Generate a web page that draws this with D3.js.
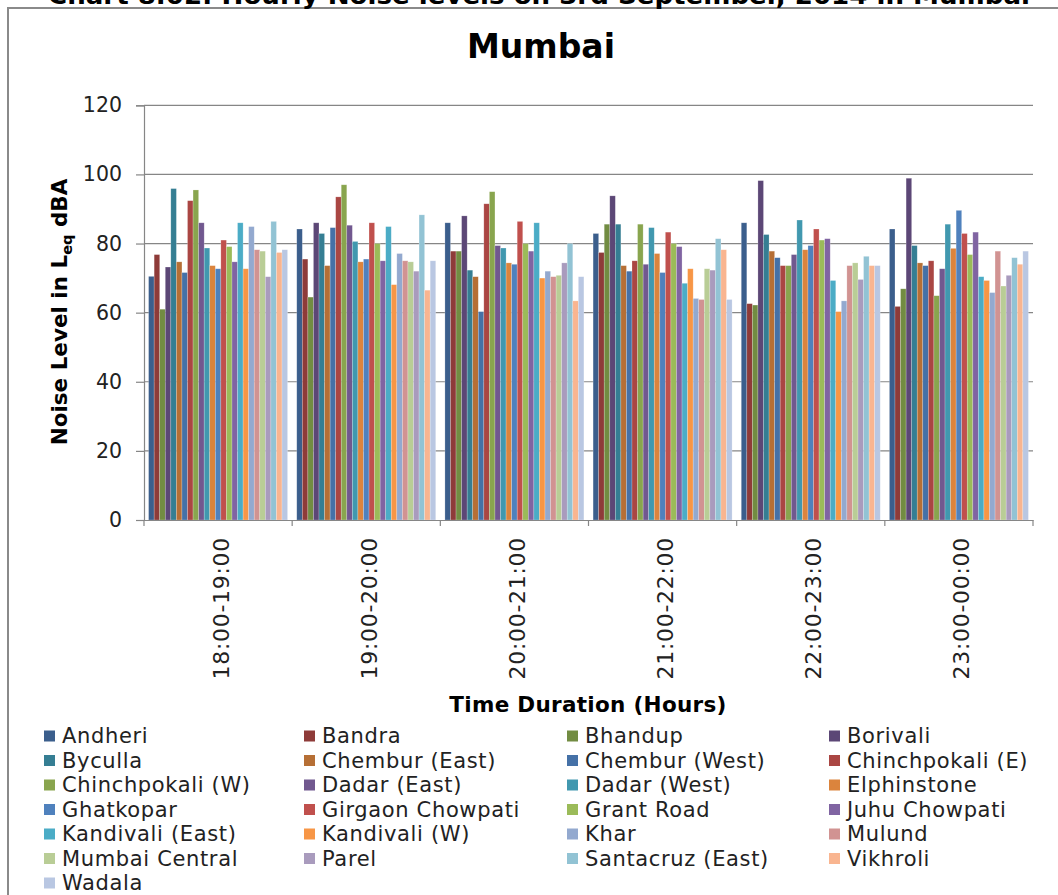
<!DOCTYPE html>
<html>
<head>
<meta charset="utf-8">
<script src="https://cdn.jsdelivr.net/npm/d3@7"></script>
<style>
  html, body { margin: 0; padding: 0; background: #fff; }
  svg { display: block; font-family: "DejaVu Sans", Verdana, sans-serif; }
</style>
</head>
<body>
<svg id="chart" width="1058" height="895"></svg>
<script>
const categories = ["18:00-19:00", "19:00-20:00", "20:00-21:00", "21:00-22:00", "22:00-23:00", "23:00-00:00"];
const seriesNames = ["Andheri", "Bandra", "Bhandup", "Borivali", "Byculla", "Chembur (East)", "Chembur (West)",
  "Chinchpokali (E)", "Chinchpokali (W)", "Dadar (East)", "Dadar (West)", "Elphinstone", "Ghatkopar",
  "Girgaon Chowpati", "Grant Road", "Juhu Chowpati", "Kandivali (East)", "Kandivali (W)", "Khar", "Mulund",
  "Mumbai Central", "Parel", "Santacruz (East)", "Vikhroli", "Wadala"];
const seriesColors = ["#3B5E8C", "#8E3B39", "#728C42", "#5C4776", "#357E93", "#B66F35", "#4571A7",
  "#AA4643", "#89A54E", "#71588F", "#4198AF", "#DB843D", "#4F81BD", "#C0504D", "#9BBB59", "#8064A2",
  "#4BACC6", "#F79646", "#93A9CF", "#D19392", "#B9CD96", "#A99BBD", "#92C3D4", "#F9B590", "#B9C7E2"];
// values per time slot, in series order
const h18 = [70.5, 76.8, 61.0, 73.2, 95.9, 74.7, 71.6, 92.4, 95.5, 86.0, 78.7, 73.6, 72.7, 81.0, 79.1, 74.7, 86.0, 72.7, 84.9, 78.2, 77.8, 70.4, 86.4, 77.4, 78.2];
const h19 = [84.2, 75.5, 64.5, 86.0, 82.9, 73.6, 84.6, 93.5, 97.0, 85.3, 80.6, 74.7, 75.5, 86.0, 80.0, 75.0, 84.9, 68.1, 77.1, 75.0, 74.7, 72.0, 88.3, 66.5, 75.0];
const h20 = [86.0, 77.8, 77.8, 88.0, 72.3, 70.4, 60.3, 91.5, 95.0, 79.4, 78.7, 74.4, 74.0, 86.4, 80.0, 77.8, 86.0, 70.0, 72.0, 70.4, 70.8, 74.4, 80.0, 63.4, 70.4];
const h21 = [82.9, 77.4, 85.6, 93.8, 85.6, 73.6, 72.0, 75.0, 85.6, 74.0, 84.6, 77.1, 71.6, 83.3, 80.0, 79.1, 68.5, 72.7, 64.1, 63.8, 72.7, 72.3, 81.4, 78.2, 63.8];
const h22 = [86.0, 62.6, 62.2, 98.2, 82.6, 77.8, 75.9, 73.6, 73.6, 76.8, 86.8, 78.2, 79.4, 84.2, 81.0, 81.4, 69.3, 60.3, 63.4, 73.6, 74.4, 69.6, 76.3, 73.6, 73.6];
const h23 = [84.2, 61.8, 66.9, 98.9, 79.4, 74.4, 73.6, 75.0, 64.9, 72.7, 85.6, 78.6, 89.6, 82.9, 76.8, 83.3, 70.4, 69.3, 65.8, 77.8, 67.7, 70.8, 75.9, 74.0, 77.8];
const yTicks = [0, 20, 40, 60, 80, 100, 120];

const slotValues = [h18, h19, h20, h21, h22, h23];
const data = categories.map((c, i) => ({ cat: c, vals: slotValues[i] }));

const svg = d3.select("#chart");
const axisColor = "#868686";

// outer frame
svg.append("rect").attr("x", 8).attr("y", 8).attr("width", 1100).attr("height", 950)
  .attr("fill", "none").attr("stroke", "#8a8a8a").attr("stroke-width", 2);

// page heading (cut off at the top edge, as in the source image)
svg.append("text").attr("x", 48).attr("y", 4)
  .attr("textLength", 982).attr("lengthAdjust", "spacingAndGlyphs")
  .attr("font-weight", "bold").attr("font-size", 24).attr("fill", "#000")
  .text("Chart 8.02: Hourly Noise levels on 3rd September, 2014 in Mumbai");

// title
svg.append("text").attr("x", 541).attr("y", 58).attr("text-anchor", "middle")
  .attr("font-weight", "bold").attr("font-size", 33).attr("fill", "#000").text("Mumbai");

const pL = 144, pR = 1033, pT = 105.3, pB = 520;
const y = d3.scaleLinear().domain([0, 120]).range([pB, pT]);
const x0 = d3.scaleBand().domain(categories).range([pL, pR]).padding(0);
const gpad = x0.bandwidth() * 0.031;
const x1 = d3.scaleBand().domain(seriesNames).range([gpad, x0.bandwidth() - gpad]).padding(0);
const color = d3.scaleOrdinal().domain(seriesNames).range(seriesColors);

// gridlines
svg.append("g").selectAll("line").data(yTicks.filter(d => d > 0)).join("line")
  .attr("x1", pL).attr("x2", pR).attr("y1", d => y(d)).attr("y2", d => y(d))
  .attr("stroke", axisColor).attr("stroke-width", 1.2);

// y axis
const yAxis = svg.append("g").attr("transform", `translate(${pL},0)`)
  .call(d3.axisLeft(y).tickValues(yTicks).tickSize(8).tickPadding(14).tickFormat(d3.format("d")));
yAxis.select(".domain").attr("stroke", axisColor).attr("stroke-width", 1.2);
yAxis.selectAll(".tick line").attr("stroke", axisColor).attr("stroke-width", 1.2);
yAxis.selectAll(".tick text").attr("font-size", 20.5).attr("fill", "#222")
  .attr("font-family", "DejaVu Sans, Verdana, sans-serif");

// bars
const groups = svg.append("g").selectAll("g").data(data).join("g")
  .attr("transform", d => `translate(${x0(d.cat)},0)`);
groups.selectAll("rect").data(d => d.vals.map((v, i) => ({ name: seriesNames[i], v }))).join("rect")
  .attr("x", d => x1(d.name)).attr("width", x1.bandwidth())
  .attr("y", d => y(d.v)).attr("height", d => y(0) - y(d.v))
  .attr("fill", d => color(d.name))
  .attr("stroke", "rgba(255,255,255,0.35)").attr("stroke-width", 0.6);

// x axis
const xAxis = svg.append("g").attr("transform", `translate(0,${pB})`)
  .call(d3.axisBottom(x0).tickSize(0).tickPadding(0).tickFormat(() => ""));
xAxis.select(".domain").attr("stroke", axisColor).attr("stroke-width", 1.2);
svg.append("g").selectAll("line").data(categories.concat(["end"])).join("line")
  .attr("x1", (d, i) => pL + i * x0.step()).attr("x2", (d, i) => pL + i * x0.step())
  .attr("y1", pB).attr("y2", pB + 6).attr("stroke", axisColor).attr("stroke-width", 1.2);

// x tick labels (rotated)
svg.append("g").selectAll("text").data(categories).join("text")
  .attr("transform", d => `translate(${x0(d) + x0.bandwidth() / 2 + 3},${pB + 17}) rotate(-90)`)
  .attr("text-anchor", "end").attr("dominant-baseline", "central")
  .attr("font-size", 22).attr("letter-spacing", 0.7).attr("fill", "#222").text(d => d);

// axis titles
const yt = svg.append("text").attr("transform", `translate(67,312) rotate(-90)`)
  .attr("text-anchor", "middle").attr("font-weight", "bold").attr("font-size", 21.5).attr("fill", "#000");
yt.append("tspan").text("Noise Level in L");
yt.append("tspan").attr("font-size", 14.5).attr("dy", 5).text("eq");
yt.append("tspan").attr("dy", -5).text(" dBA");

svg.append("text").attr("x", 588).attr("y", 712).attr("text-anchor", "middle")
  .attr("font-weight", "bold").attr("font-size", 21.5).attr("letter-spacing", 0.3).attr("fill", "#000").text("Time Duration (Hours)");

// legend
const colX = [44, 304, 567, 829];
const rowY0 = 736, rowStep = 24.5;
const leg = svg.append("g").selectAll("g").data(seriesNames).join("g")
  .attr("transform", (d, i) => `translate(${colX[i % 4]},${rowY0 + Math.floor(i / 4) * rowStep})`);
leg.append("rect").attr("x", 0).attr("y", -5.5).attr("width", 11).attr("height", 11)
  .attr("fill", d => color(d));
leg.append("text").attr("x", 18).attr("y", 0).attr("dominant-baseline", "central")
  .attr("font-size", 21).attr("letter-spacing", 0.65).attr("fill", "#222").text(d => d);
</script>
</body>
</html>
